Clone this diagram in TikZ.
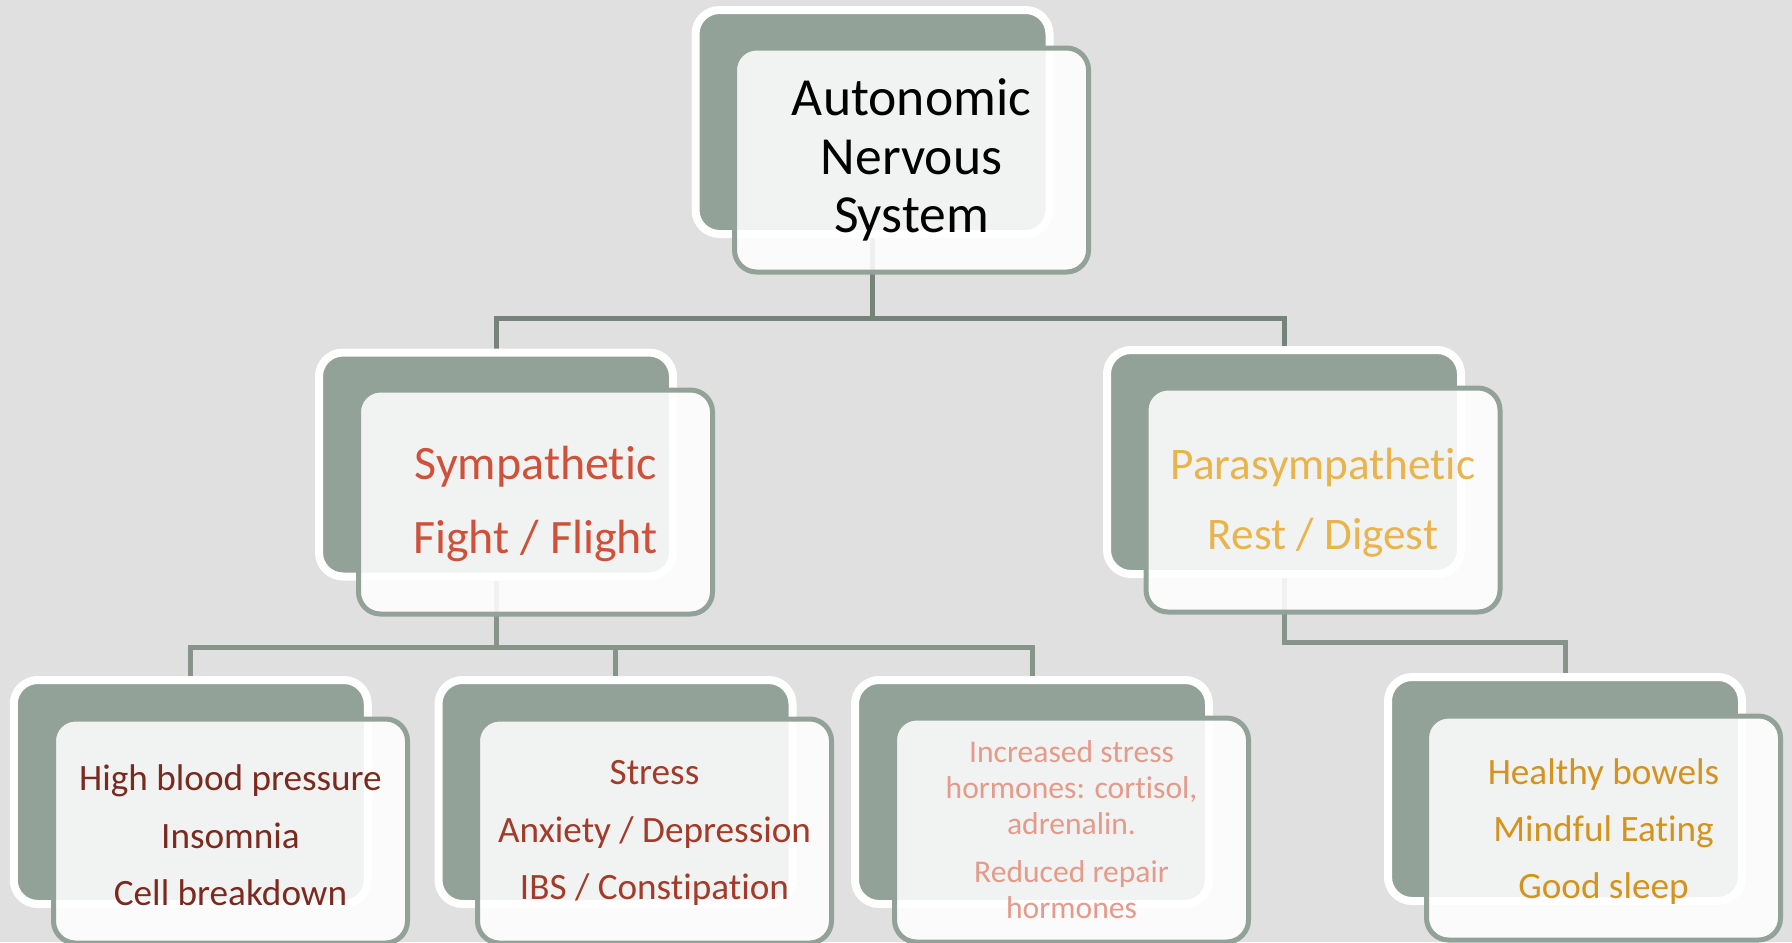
\documentclass[tikz,border=0pt]{standalone}
\usepackage{fontspec}
\setmainfont[Ligatures=NoCommon]{Carlito}
\usetikzlibrary{calc}
\definecolor{bgc}{HTML}{E0E0E0}
\definecolor{sage}{HTML}{92A298}
\definecolor{connA}{HTML}{76837A}
\definecolor{connB}{HTML}{86948A}
\definecolor{symc}{HTML}{D0513A}
\definecolor{parac}{HTML}{E9B44C}
\definecolor{bonec}{HTML}{7A2A1E}
\definecolor{btwoc}{HTML}{A33A2A}
\definecolor{bthreec}{HTML}{E59A8A}
\definecolor{bfourc}{HTML}{D4931E}
\pgfdeclarelayer{bg}
\pgfsetlayers{bg,main}
\newcommand{\topstrut}[1]{\rule{0pt}{#1}}
\begin{document}
\begin{tikzpicture}[x=0.5pt,y=-0.5pt,
  backbox/.style={draw=white, line width=4pt, fill=sage, rounded corners=12pt,
    minimum width=177pt, minimum height=112pt, inner sep=0pt},
  frontbox/.style={draw=sage, line width=2.5pt, fill=white, fill opacity=0.88,
    text opacity=1, rounded corners=11pt, minimum width=177pt, minimum height=112pt,
    inner sep=0pt, align=center},
  connA/.style={draw=connA, line width=2.5pt},
  connB/.style={draw=connB, line width=2.5pt},
]
\useasboundingbox (0,0) rectangle (1792,942);

% boxes
\node[backbox] (ansB) at (872.5,122) {};
\node[frontbox, font=\fontsize{26.8pt}{29.25pt}\selectfont] (ansF) at (911.5,160) {Autonomic\\Nervous\\System};

\node[backbox] (symB) at (496,464.5) {};
\node[frontbox, text=symc, font=\fontsize{24pt}{37pt}\selectfont] (symF) at (535.5,502) {\topstrut{18.3pt}Sympathetic\\Fight / Flight};

\node[backbox] (paraB) at (1284,462) {};
\node[frontbox, text=parac, font=\fontsize{22.6pt}{35pt}\selectfont] (paraF) at (1323,500) {\topstrut{18.5pt}Parasympathetic\\Rest / Digest};

\node[backbox] (boneB) at (190.75,792) {};
\node[frontbox, text=bonec, font=\fontsize{18.6pt}{28.75pt}\selectfont] (boneF) at (230.5,831) {\topstrut{17.3pt}High blood pressure\\Insomnia\\Cell breakdown};

\node[backbox] (btwoB) at (615.5,792) {};
\node[frontbox, text=btwoc, font=\fontsize{18.6pt}{28.75pt}\selectfont] (btwoF) at (654.5,831) {\topstrut{14.3pt}Stress\\Anxiety / Depression\\IBS / Constipation};

\node[backbox] (bthreeB) at (1032,792) {};
\node[frontbox, text=bthreec, font=\fontsize{15.8pt}{18pt}\selectfont] (bthreeF) at (1071.5,830) {Increased stress\\hormones: cortisol,\\adrenalin.\\[6pt]Reduced repair\\hormones};

\node[backbox] (bfourB) at (1565,789) {};
\node[frontbox, text=bfourc, font=\fontsize{18.6pt}{28.5pt}\selectfont] (bfourF) at (1603.5,828) {\topstrut{16.2pt}Healthy bowels\\Mindful Eating\\Good sleep};

% background and connectors
\begin{pgfonlayer}{bg}
\fill[bgc] (0,0) rectangle (1792,942);
\coordinate (jA) at (872.5,318);
\coordinate (jB) at (496,647);
\coordinate (jC) at (1284,642);
\draw[connA] (ansB.center) -- (jA);
\draw[connA] (symB.center) |- (jA) -| (paraB.center);
\draw[connB] (symB.center) -- (jB);
\draw[connB] (boneB.center) |- (jB) -| (bthreeB.center);
\draw[connB] (btwoB.center) -- (btwoB.center |- jB);
\draw[connB] (paraB.center) -- (jC) -| (bfourB.center);
\end{pgfonlayer}
\end{tikzpicture}
\end{document}
